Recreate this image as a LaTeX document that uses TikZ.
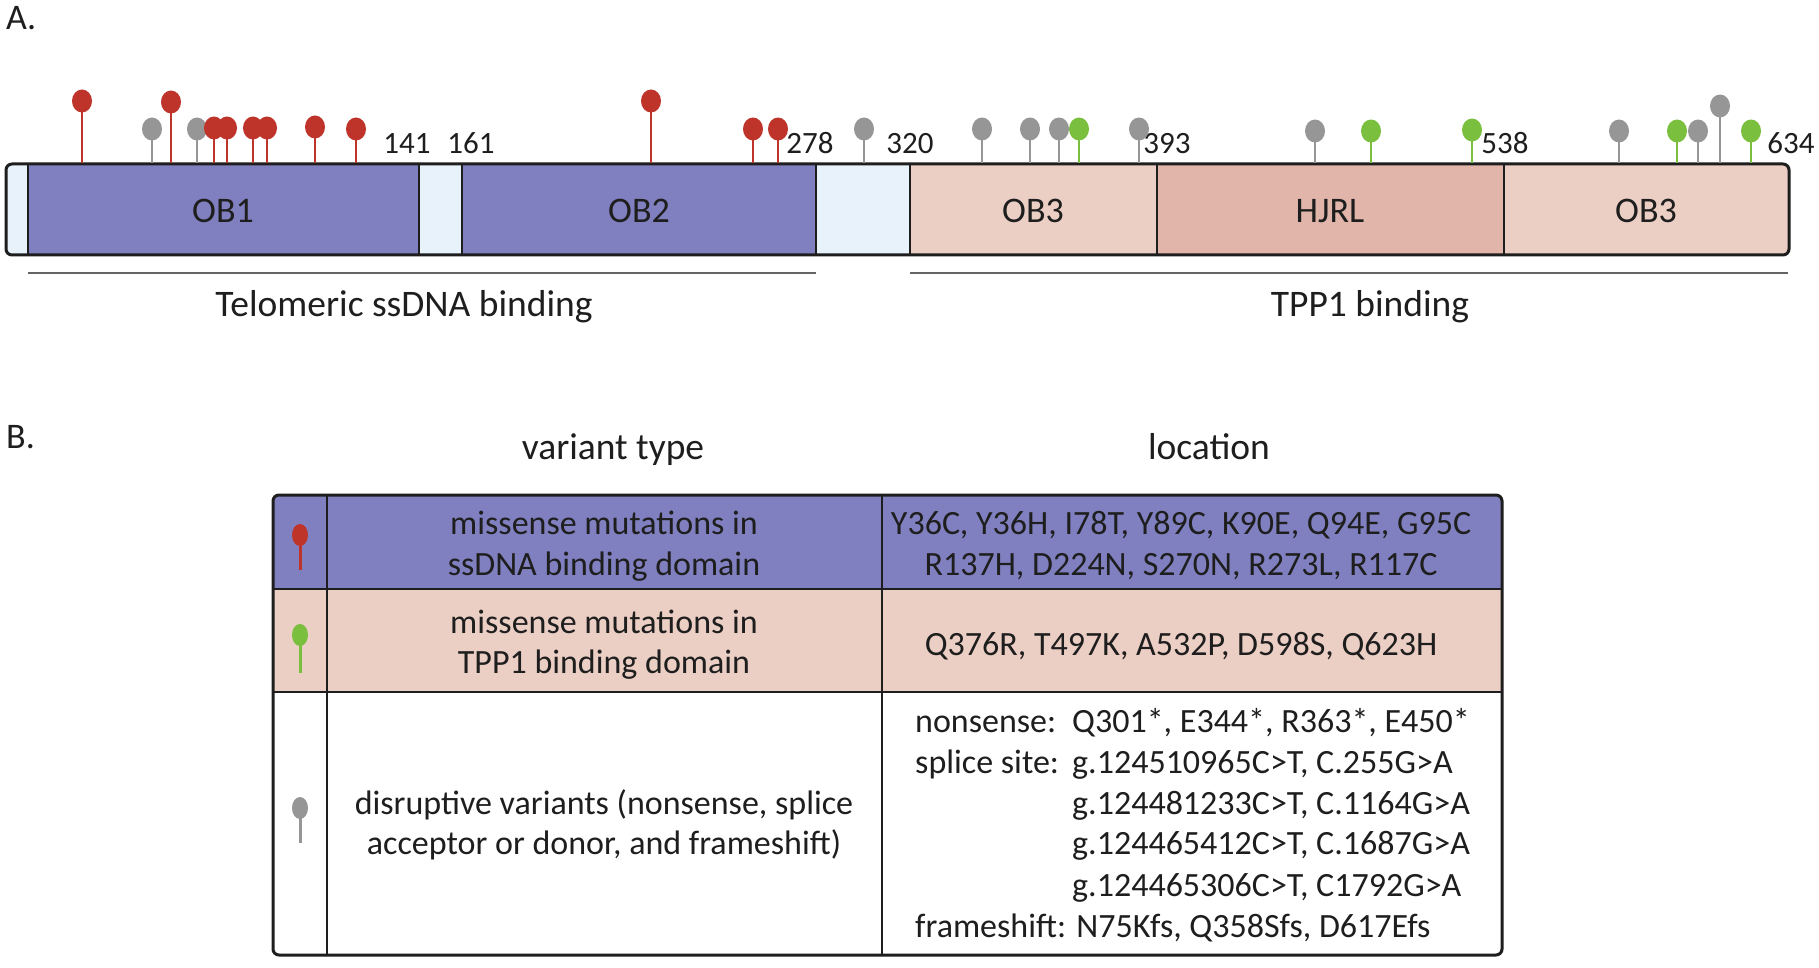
\documentclass[tikz,border=0pt]{standalone}
\usepackage{fontspec}
\setmainfont{Carlito}
\usetikzlibrary{shapes.geometric}
\definecolor{obblue}{RGB}{128,128,192}
\definecolor{spacer}{RGB}{232,242,250}
\definecolor{obpink}{RGB}{235,206,196}
\definecolor{hjrl}{RGB}{226,181,170}
\definecolor{lred}{RGB}{190,52,42}
\definecolor{lgrey}{RGB}{150,150,150}
\definecolor{lgreen}{RGB}{122,192,62}
\definecolor{txt}{RGB}{30,30,30}
\definecolor{uline}{RGB}{100,100,100}
\begin{document}
\begin{tikzpicture}[x=1pt,y=-1pt,
 lbl/.style={text=txt, inner sep=0pt, text height=0.68em, text depth=0.18em},
 big/.style={lbl, font=\fontsize{36}{40}\selectfont},
 hdr/.style={lbl, font=\fontsize{37.5}{40}\selectfont},
 num/.style={lbl, font=\fontsize{31}{34}\selectfont},
 tab/.style={lbl, font=\fontsize{34}{40}\selectfont},
 head/.style={ellipse, minimum width=20pt, minimum height=23pt, inner sep=0pt, fill=#1, draw=none},
 thead/.style={ellipse, minimum width=16pt, minimum height=22pt, inner sep=0pt, fill=#1, draw=none},
 stem/.style={draw=#1, line width=2.6pt},
 tstem/.style={draw=#1, line width=3pt},
 divider/.style={draw=txt, line width=1.3pt},
 outline/.style={draw=txt, line width=3pt, rounded corners=6pt},
 underline/.style={draw=uline, line width=1.5pt},
]
\useasboundingbox (0,0) rectangle (1819,968);
\fill[white] (0,0) rectangle (1819,968);

% panel labels
\node[big, anchor=west] (A) at (6,27) {A.};
\node[big, anchor=west] (B) at (6,446) {B.};

% ---------- protein bar ----------
\begin{scope}
\clip[rounded corners=6pt] (6,164) rectangle (1789,255);
\fill[spacer] (6,164) rectangle (28,255);
\fill[obblue] (28,164) rectangle (419,255);
\fill[spacer] (419,164) rectangle (462,255);
\fill[obblue] (462,164) rectangle (816,255);
\fill[spacer] (816,164) rectangle (910,255);
\fill[obpink] (910,164) rectangle (1157,255);
\fill[hjrl] (1157,164) rectangle (1504,255);
\fill[obpink] (1504,164) rectangle (1789,255);
\end{scope}
\foreach \d in {28,419,462,816,910,1157,1504}
  \draw[divider] (\d,164) -- (\d,255);
\draw[outline] (6,164) rectangle (1789,255);

\node[big] (ob1) at (223,220) {OB1};
\node[big] (ob2) at (639,220) {OB2};
\node[big] (ob3a) at (1033,220) {OB3};
\node[big] (hjrl) at (1330,220) {HJRL};
\node[big] (ob3b) at (1646,220) {OB3};

% residue numbers
\node[num] (n141) at (407,151) {141};
\node[num] (n161) at (471,151) {161};
\node[num] (n278) at (810,151) {278};
\node[num] (n320) at (910,151) {320};
\node[num] (n393) at (1167,151) {393};
\node[num] (n538) at (1505,151) {538};
\node[num] (n634) at (1791,151) {634};

% lollipops
\foreach \x/\y/\c in {
  152/129/lgrey, 197/129/lgrey, 864/129/lgrey, 982/129/lgrey, 1030/129/lgrey,
  1059/129/lgrey, 1139/129/lgrey, 1315/131/lgrey, 1619/131/lgrey, 1698/131/lgrey,
  1720/106/lgrey,
  82/101/lred, 171/102/lred, 651/101/lred,
  214/128/lred, 227/128/lred, 253/128/lred, 267/128/lred, 315/127/lred,
  356/129/lred, 753/129/lred, 778/129/lred,
  1079/129/lgreen, 1371/131/lgreen, 1472/130/lgreen, 1677/131/lgreen, 1751/131/lgreen}
{
  \coordinate (b\x) at (\x,163);
  \coordinate (t\x) at (\x,\y);
  \draw[stem=\c] (b\x) -- (t\x);
  \node[head=\c] (h\x) at (t\x) {};
}

% domain underlines
\coordinate (ul1) at (28,273);
\coordinate (ul2) at (816,273);
\coordinate (ur1) at (910,273);
\coordinate (ur2) at (1788,273);
\draw[underline] (ul1) -- (ul2);
\draw[underline] (ur1) -- (ur2);
\node[hdr] (tel) at (404,314) {Telomeric ssDNA binding};
\node[hdr] (tpp) at (1370,314) {TPP1 binding};

% ---------- table ----------
\node[hdr] (hvar) at (613,457) {variant type};
\node[hdr] (hloc) at (1209,457) {location};

\begin{scope}
\clip[rounded corners=6pt] (273,495) rectangle (1502,955);
\fill[obblue] (273,495) rectangle (1502,589);
\fill[obpink] (273,589) rectangle (1502,692);
\fill[white] (273,692) rectangle (1502,955);
\end{scope}
\draw[divider] (273,589) -- (1502,589);
\draw[divider] (273,692) -- (1502,692);
\draw[divider] (327,495) -- (327,955);
\draw[divider] (882,495) -- (882,955);
\draw[outline] (273,495) rectangle (1502,955);

% icons
\coordinate (i1b) at (300,570); \coordinate (i1t) at (300,535);
\draw[tstem=lred] (i1b) -- (i1t); \node[thead=lred] (i1) at (i1t) {};
\coordinate (i2b) at (300,673); \coordinate (i2t) at (300,635);
\draw[tstem=lgreen] (i2b) -- (i2t); \node[thead=lgreen] (i2) at (i2t) {};
\coordinate (i3b) at (300,843); \coordinate (i3t) at (300,808);
\draw[tstem=lgrey] (i3b) -- (i3t); \node[thead=lgrey] (i3) at (i3t) {};

% variant type column
\node[tab] (v1a) at (604,532) {missense mutations in};
\node[tab] (v1b) at (604,573) {ssDNA binding domain};
\node[tab] (v2a) at (604,631) {missense mutations in};
\node[tab] (v2b) at (604,671) {TPP1 binding domain};
\node[tab] (v3a) at (604,812) {disruptive variants (nonsense, splice};
\node[tab] (v3b) at (604,852) {acceptor or donor, and frameshift)};

% location column
\node[tab] (l1a) at (1181,532) {Y36C, Y36H, I78T, Y89C, K90E, Q94E, G95C};
\node[tab] (l1b) at (1181,573) {R137H, D224N, S270N, R273L, R117C};
\node[tab] (l2) at (1181,653) {Q376R, T497K, A532P, D598S, Q623H};
\node[tab, anchor=west] (l3a) at (915,730) {nonsense:};
\node[tab, anchor=west] (l3av) at (1072,730) {Q301*, E344*, R363*, E450*};
\node[tab, anchor=west] (l3b) at (915,771) {splice site:};
\node[tab, anchor=west] (l3bv) at (1072,771) {g.124510965C>T, C.255G>A};
\node[tab, anchor=west] (l3c) at (1072,812) {g.124481233C>T, C.1164G>A};
\node[tab, anchor=west] (l3d) at (1072,852) {g.124465412C>T, C.1687G>A};
\node[tab, anchor=west] (l3e) at (1072,894) {g.124465306C>T, C1792G>A};
\node[tab, anchor=west] (l3f) at (915,935) {frameshift: N75Kfs, Q358Sfs, D617Efs};
\end{tikzpicture}
\end{document}
